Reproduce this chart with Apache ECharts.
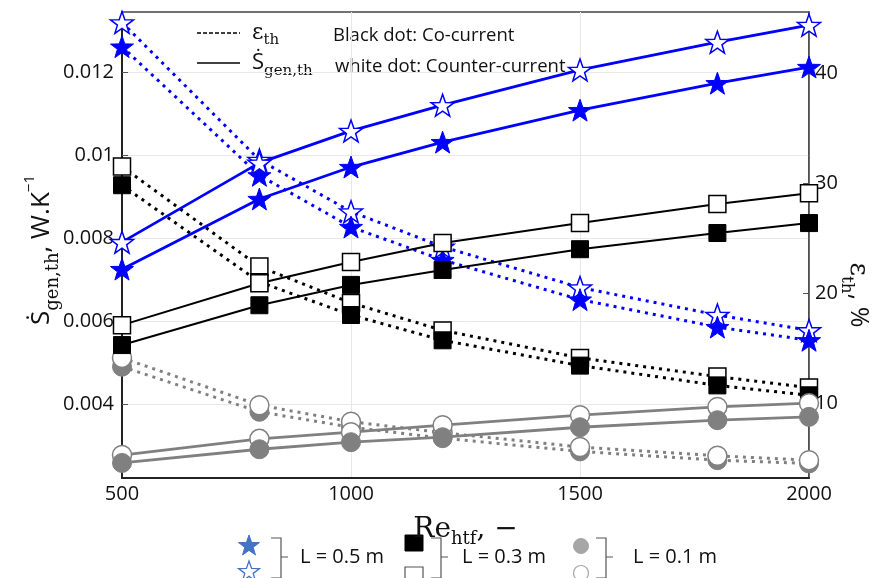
<!DOCTYPE html>
<html>
<head>
<meta charset="utf-8">
<script src="https://cdn.jsdelivr.net/npm/echarts@6/dist/echarts.min.js"></script>
<style>
html,body{margin:0;padding:0;background:#fff;}
#chart{width:885px;height:578px;}
</style>
</head>
<body>
<div id="chart"></div>
<script>
// ---- data ----
const reHtf = [500, 800, 1000, 1200, 1500, 1800, 2000];
// L = 0.5 m (blue stars)
const sGen05Counter = [0.0079, 0.00981, 0.01058, 0.0112, 0.01205, 0.01272, 0.01313];
const sGen05Co      = [0.00725, 0.00894, 0.00971, 0.01031, 0.01108, 0.01173, 0.01212];
const eps05Counter  = [44.6, 32.1, 27.4, 24.2, 20.5, 18.0, 16.6];
const eps05Co       = [42.4, 30.7, 26.0, 23.0, 19.4, 16.9, 15.7];
// L = 0.3 m (black squares)
const sGen03Counter = [0.0059, 0.00691, 0.00742, 0.00788, 0.00836, 0.00882, 0.00908];
const sGen03Co      = [0.00542, 0.00638, 0.00687, 0.00723, 0.00773, 0.00812, 0.00836];
const eps03Counter  = [31.5, 22.4, 19.1, 16.6, 14.1, 12.4, 11.4];
const eps03Co       = [29.8, 21.0, 18.0, 15.7, 13.4, 11.6, 10.7];
// L = 0.1 m (grey circles)
const sGen01Counter = [0.00277, 0.00316, 0.00332, 0.00349, 0.00373, 0.00393, 0.00402];
const sGen01Co      = [0.00258, 0.00291, 0.00308, 0.0032, 0.00344, 0.00361, 0.00369];
const eps01Counter  = [14.1, 9.8, 8.3, 7.3, 6.0, 5.2, 4.8];
const eps01Co       = [13.3, 9.2, 7.8, 6.8, 5.6, 4.8, 4.5];
// tick labels
const xTicks = [500, 1000, 1500, 2000];
const leftTicks = [0.004, 0.006, 0.008, 0.01, 0.012];
const rightTicks = [10, 20, 30, 40];

// ---- helpers ----
function starPoints(cx, cy, R) {
  const pts = [];
  for (let i = 0; i < 10; i++) {
    const r = i % 2 ? R * 0.40 : R;
    const a = -Math.PI / 2 + i * Math.PI / 5;
    pts.push([cx + r * Math.cos(a), cy + r * Math.sin(a)]);
  }
  return pts;
}
const starSym = 'path://M' + starPoints(0, 0, 10).map(p => p[0].toFixed(3) + ' ' + p[1].toFixed(3)).join(' L') + ' Z';
const pair = arr => arr.map((v, i) => [reHtf[i], v]);

const BLUE = '#0000ff', BLACK = '#000000', GREY = '#808080';
const dotted = [3, 5];

function mk(name, data, yIdx, color, dash, symbol, size, open, width) {
  return {
    name, type: 'line', yAxisIndex: yIdx, data: pair(data),
    symbol, symbolSize: size, symbolKeepAspect: true,
    lineStyle: { color, width: width, type: dash ? dotted : 'solid', cap: 'butt' },
    itemStyle: { color: open ? '#ffffff' : color, borderColor: color, borderWidth: open ? 1.5 : 1, opacity: 1 },
    z: dash ? 2 : 3,
    animation: false
  };
}

const series = [
  mk('eps01Co', eps01Co, 1, GREY, true, 'circle', 19, false, 3),
  mk('eps01Counter', eps01Counter, 1, GREY, true, 'circle', 19, true, 3),
  mk('s01Counter', sGen01Counter, 0, GREY, false, 'circle', 19, true, 2.8),
  mk('s01Co', sGen01Co, 0, GREY, false, 'circle', 19, false, 2.8),
  mk('eps03Counter', eps03Counter, 1, BLACK, true, 'rect', 17, true, 3),
  mk('eps03Co', eps03Co, 1, BLACK, true, 'rect', 17, false, 3),
  mk('s03Counter', sGen03Counter, 0, BLACK, false, 'rect', 17, true, 2),
  mk('s03Co', sGen03Co, 0, BLACK, false, 'rect', 17, false, 2),
  mk('eps05Counter', eps05Counter, 1, BLUE, true, starSym, 23, true, 3),
  mk('eps05Co', eps05Co, 1, BLUE, true, starSym, 23, false, 3),
  mk('s05Counter', sGen05Counter, 0, BLUE, false, starSym, 23, true, 2.8),
  mk('s05Co', sGen05Co, 0, BLUE, false, starSym, 23, false, 2.8)
];

const FONT = 'Open Sans';
const SERIF = 'DejaVu Serif';

// bottom legend graphics
function brace(x, y) {
  return {
    type: 'polyline',
    shape: { points: [[x, y], [x + 10, y], [x + 10, y + 19], [x + 17, y + 19], [x + 10, y + 19], [x + 10, y + 40], [x, y + 40]] },
    style: { stroke: '#555', lineWidth: 1.2, fill: null }
  };
}
const graphics = [
  // top-left legend
  { type: 'line', shape: { x1: 197, y1: 33, x2: 240, y2: 33 }, style: { stroke: '#000', lineWidth: 1.5, lineDash: [4, 2] } },
  { type: 'line', shape: { x1: 197, y1: 63, x2: 240, y2: 63 }, style: { stroke: '#000', lineWidth: 1.5 } },
  { type: 'text', x: 252, y: 33, style: { text: '{e|ε}{s|th}', verticalAlign: 'middle', rich: {
      e: { fontFamily: SERIF, fontSize: 22, lineHeight: 30, verticalAlign: 'middle', fill: '#111' },
      s: { fontFamily: SERIF, fontSize: 15, lineHeight: 16, verticalAlign: 'bottom', fill: '#111' } } } },
  { type: 'text', x: 252, y: 63, style: { text: '{e|Ṡ}{s|gen,th}', verticalAlign: 'middle', rich: {
      e: { fontFamily: FONT, fontSize: 22, lineHeight: 32, verticalAlign: 'middle', fill: '#111' },
      s: { fontFamily: SERIF, fontSize: 15, lineHeight: 16, verticalAlign: 'bottom', fill: '#111' } } } },
  { type: 'text', x: 333, y: 36, style: { text: 'Black dot: Co-current', fontFamily: FONT, fontSize: 18.5, fill: '#111', verticalAlign: 'middle' } },
  { type: 'text', x: 335, y: 67, style: { text: 'white dot: Counter-current', fontFamily: FONT, fontSize: 18.5, fill: '#111', verticalAlign: 'middle' } },
  // y-axis titles
  { type: 'text', x: 42, y: 250, rotation: Math.PI / 2, style: { text: '{a|Ṡ}{b|gen,th}{a|, W.K}{c|−1}', align: 'center', verticalAlign: 'middle', rich: {
      a: { fontFamily: FONT, fontSize: 26, lineHeight: 40, verticalAlign: 'middle', fill: '#111' },
      b: { fontFamily: SERIF, fontSize: 18, lineHeight: 20, verticalAlign: 'bottom', fill: '#111' },
      c: { fontFamily: FONT, fontSize: 15, lineHeight: 22, verticalAlign: 'top', fill: '#111' } } } },
  { type: 'text', x: 858, y: 295, rotation: -Math.PI / 2, style: { text: '{a|ε}{b|th}{d|, %}', align: 'center', verticalAlign: 'middle', rich: {
      a: { fontFamily: SERIF, fontSize: 26, lineHeight: 40, verticalAlign: 'middle', fill: '#111' },
      b: { fontFamily: SERIF, fontSize: 17, lineHeight: 20, verticalAlign: 'bottom', fill: '#111' },
      d: { fontFamily: FONT, fontSize: 25, lineHeight: 40, verticalAlign: 'middle', fill: '#111' } } } },
  // bottom legend
  { type: 'polygon', shape: { points: starPoints(249, 546, 11) }, style: { fill: '#4472c4', stroke: '#4472c4', lineWidth: 1 } },
  { type: 'polygon', shape: { points: starPoints(249, 572, 11) }, style: { fill: '#fff', stroke: '#4472c4', lineWidth: 1.3 } },
  brace(271, 538),
  { type: 'text', x: 300, y: 557, style: { text: 'L = 0.5 m', fontFamily: FONT, fontSize: 20, fill: '#111', verticalAlign: 'middle' } },
  { type: 'rect', shape: { x: 405, y: 535, width: 18, height: 16 }, style: { fill: '#000', stroke: '#000' } },
  { type: 'rect', shape: { x: 405, y: 567, width: 18, height: 16 }, style: { fill: '#fff', stroke: '#555', lineWidth: 1.2 } },
  brace(431, 538),
  { type: 'text', x: 462, y: 557, style: { text: 'L = 0.3 m', fontFamily: FONT, fontSize: 20, fill: '#111', verticalAlign: 'middle' } },
  { type: 'circle', shape: { cx: 581, cy: 546, r: 7.5 }, style: { fill: '#a6a6a6', stroke: '#a6a6a6' } },
  { type: 'circle', shape: { cx: 581, cy: 573, r: 7.5 }, style: { fill: '#fff', stroke: '#a6a6a6', lineWidth: 1.2 } },
  brace(596, 538),
  { type: 'text', x: 633, y: 557, style: { text: 'L = 0.1 m', fontFamily: FONT, fontSize: 20, fill: '#111', verticalAlign: 'middle' } }
];

const chart = echarts.init(document.getElementById('chart'), null, { renderer: 'canvas' });
chart.setOption({
  animation: false,
  backgroundColor: '#ffffff',
  grid: { left: 122, right: 76, top: 12, bottom: 100, show: true, borderColor: '#444', borderWidth: 1.5, backgroundColor: 'transparent' },
  xAxis: {
    type: 'value', min: 500, max: 2000, interval: 500,
    axisLine: { show: true, lineStyle: { color: '#222', width: 2 } },
    axisTick: { show: false },
    axisLabel: { color: '#111', fontFamily: FONT, fontSize: 20, margin: 6, customValues: xTicks, formatter: v => String(v) },
    splitLine: { show: true, lineStyle: { color: '#e8e8e8', width: 1 } },
    name: '{r|Re}{s|htf}{r|, −}', nameLocation: 'middle', nameGap: 34,
    nameTextStyle: { rich: {
      r: { fontFamily: SERIF, fontSize: 28, lineHeight: 36, verticalAlign: 'middle', color: '#111' },
      s: { fontFamily: SERIF, fontSize: 18, lineHeight: 18, verticalAlign: 'bottom', color: '#111' } } }
  },
  yAxis: [
    {
      type: 'value', min: 0.002217, max: 0.013446, position: 'left',
      axisLine: { show: true, lineStyle: { color: '#222', width: 2 } },
      axisTick: { show: true, inside: true, length: 6, customValues: leftTicks, lineStyle: { color: '#555' } },
      axisLabel: { color: '#111', fontFamily: FONT, fontSize: 20, margin: 8, customValues: leftTicks, formatter: v => String(+v.toFixed(3)) },
      splitLine: { show: true, lineStyle: { color: '#e8e8e8', width: 1 } }
    },
    {
      type: 'value', min: 3.18, max: 45.55, position: 'right',
      axisLine: { show: true, lineStyle: { color: '#444', width: 1.5 } },
      axisTick: { show: true, inside: true, length: 6, customValues: rightTicks, lineStyle: { color: '#555' } },
      axisLabel: { color: '#111', fontFamily: FONT, fontSize: 20, margin: 6, customValues: rightTicks },
      splitLine: { show: false }
    }
  ],
  series,
  graphic: graphics
});
</script>
</body>
</html>
